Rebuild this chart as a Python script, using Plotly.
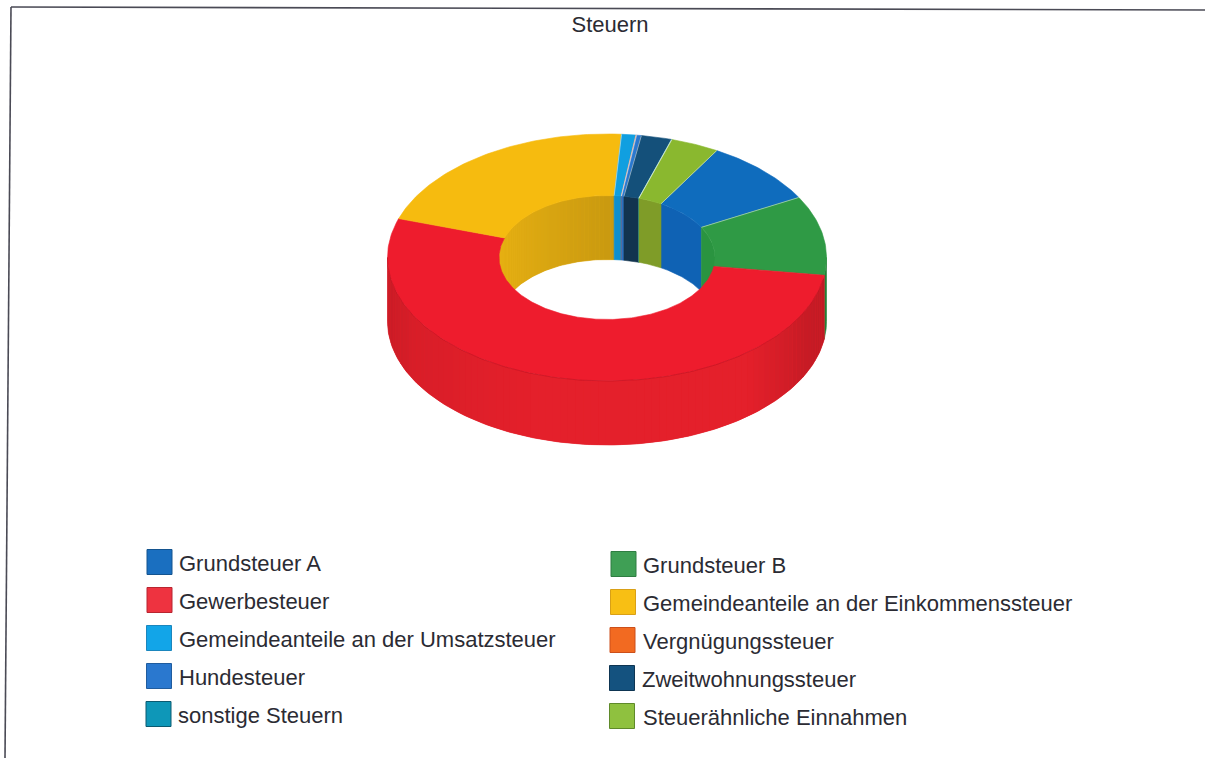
import numpy as np
import plotly.graph_objects as go

# ---- data ----
title = "Steuern"
categories = ["Grundsteuer A", "Grundsteuer B", "Gewerbesteuer",
              "Gemeindeanteile an der Einkommenssteuer",
              "Gemeindeanteile an der Umsatzsteuer", "Vergnügungssteuer",
              "Hundesteuer", "Zweitwohnungssteuer", "sonstige Steuern",
              "Steuerähnliche Einnahmen"]
shares = [8.6, 10.4, 52.9, 21.0, 1.05, 0.05, 0.35, 2.25, 0.03, 3.56]
top_colors = ["#0f6cbd", "#2f9a45", "#ee1c2d", "#f6bb0f", "#109fe0",
              "#f26522", "#2a78cf", "#14507a", "#0f97b5", "#8ab82f"]
wall_colors = ["#0f62b4", "#2a9440", "#e4202b", "#dca812", "#0f8fce",
               "#e05a1c", "#2a70c0", "#12344f", "#0d8aa6", "#7f9c28"]
legend_colors = ["#1a6fc0", "#3f9f55", "#ee3340", "#f8bf14", "#12a5e8",
                 "#f26a21", "#2a78cf", "#14527f", "#0e97b8", "#8fc13f"]
legend_borders = ["#14548f", "#2f7d42", "#b82530", "#d9a017", "#1b86bd",
                  "#cc4f1a", "#205c9e", "#0e3552", "#0b5a70", "#5f8a2a"]

# ---- layout of the drawing (pixel-like axes) ----
W, H = 1205, 758
CX, CY = 607.0, 257.5
OUT_A, OUT_B = 219.5, 123.5
IN_A, IN_B = 108.0, 62.0
DEPTH = 64.0
START = 30.0
swatch_x = [159.5, 623.5, 159.5, 623, 159, 622.5, 159, 622, 158.5, 622]
swatch_y = [562, 564, 600, 602, 638, 640, 676, 678, 714, 716]
label_x = [177, 641, 177, 641, 177, 641, 177, 640, 176, 641]
label_dy = 1
TEXT = "#2b2b33"
FONT = "Liberation Sans, Arial, sans-serif"


def pt(theta, a, b, dy=0.0):
    t = np.radians(theta)
    return CX + a * np.sin(t), CY - b * np.cos(t) + dy


def arc(lo, hi, a, b, dy=0.0):
    n = max(2, int(abs(hi - lo)) + 2)
    return pt(np.linspace(lo, hi, n), a, b, dy)


def shade(hex_color, f):
    rgb = [int(hex_color[i:i + 2], 16) for i in (1, 3, 5)]
    return "rgb(%d,%d,%d)" % tuple(min(255, int(c * f)) for c in rgb)


fig = go.Figure()


def poly(x, y, color, name, lw=0.6):
    fig.add_trace(go.Scatter(x=np.r_[x, x[0]], y=np.r_[y, y[0]], mode="lines",
                             fill="toself", fillcolor=color,
                             line=dict(color=color, width=lw),
                             name=name, showlegend=False, hoverinfo="skip"))


def band(lo, hi, a, b, color, name, lw=0.6):
    x1, y1 = arc(lo, hi, a, b)
    x2, y2 = arc(hi, lo, a, b, DEPTH)
    poly(np.r_[x1, x2], np.r_[y1, y2], color, name, lw)


def shaded_band(lo, hi, a, b, col, name, ts, fs, step=2.0):
    band(lo, hi, a, b, shade(col, np.interp((lo + hi) / 2, ts, fs)), name)
    edges = np.arange(lo, hi, step).tolist() + [hi]
    for p, q in zip(edges[:-1], edges[1:]):
        band(p, q, a, b, shade(col, np.interp((p + q) / 2, ts, fs)), name, 0)


angles = START + np.r_[0, np.cumsum(shares)] / sum(shares) * 360.0
spans = list(zip(angles[:-1], angles[1:]))

# outer front wall
shade_t = [90, 100, 118, 140, 200, 240, 262, 270]
shade_f = [0.82, 0.84, 0.88, 1.0, 1.0, 0.95, 0.88, 0.86]
for (s, e), col, name in zip(spans, wall_colors, categories):
    lo, hi = max(s, 90), min(e, 270)
    if lo < hi:
        if hi - lo > 20:
            shaded_band(lo, hi, OUT_A, OUT_B, col, name, shade_t, shade_f)
        else:
            band(lo, hi, OUT_A, OUT_B, shade(col, 0.85), name)

# inner far wall (the slice that crosses 270 is painted by its successor)
in_t, in_f = [270, 300, 330, 360], [1.08, 1.03, 0.98, 0.92]
for i, ((s, e), col, name) in enumerate(zip(spans, wall_colors, categories)):
    if s < 270 < e:
        continue
    if spans[i - 1][0] < 270 < spans[i - 1][1]:
        s = 270
    for win_lo, win_hi in ((-90, 90), (270, 450)):
        lo, hi = max(s, win_lo), min(e, win_hi)
        if lo < hi:
            if hi - lo > 40:
                shaded_band(lo, hi, IN_A, IN_B, col, name, in_t, in_f)
            else:
                band(lo, hi, IN_A, IN_B, col, name)

# top faces
for (s, e), col, name in zip(spans, top_colors, categories):
    x1, y1 = arc(s, e, OUT_A, OUT_B)
    x2, y2 = arc(e, s, IN_A, IN_B)
    poly(np.r_[x1, x2], np.r_[y1, y2], col, name)

# front rim of the top face, and light seams between slices
rx, ry = arc(max(spans[2][0], 100), 270, OUT_A, OUT_B)
fig.add_trace(go.Scatter(x=rx, y=ry, mode="lines", line=dict(color="rgba(150,10,20,0.35)", width=1),
                         showlegend=False, hoverinfo="skip"))
for i, (s, e) in enumerate(spans):
    if i in (2, 3):
        continue
    x1, y1 = pt(s, OUT_A, OUT_B)
    x2, y2 = pt(s, IN_A, IN_B)
    fig.add_trace(go.Scatter(x=[x1, x2], y=[y1, y2], mode="lines",
                             line=dict(color="rgba(255,255,255,0.45)", width=1),
                             showlegend=False, hoverinfo="skip"))

# legend
fig.add_trace(go.Scatter(x=swatch_x, y=swatch_y, mode="markers", showlegend=False, hoverinfo="skip",
                         marker=dict(symbol="square", size=25, color=legend_colors,
                                     line=dict(color=legend_borders, width=1))))
for name, lx, ly in zip(categories, label_x, swatch_y):
    fig.add_annotation(x=lx, y=ly + label_dy, text=name, showarrow=False, xanchor="left", yanchor="middle",
                       font=dict(family=FONT, size=22, color=TEXT))

# frame of the scanned page
frame = [((11, 7), (W, 10)), ((11, 7), (5, H))]
for (x0, y0), (x1, y1) in frame:
    fig.add_shape(type="line", x0=x0, y0=y0, x1=x1, y1=y1, line=dict(color="#4a4a55", width=1.6))

fig.update_layout(
    width=W, height=H, margin=dict(l=0, r=0, t=0, b=0), autosize=False,
    paper_bgcolor="white", plot_bgcolor="white", showlegend=False,
    title=dict(text=title, x=610 / W, y=1 - 24 / H, xanchor="center", yanchor="middle",
               font=dict(family=FONT, size=22, color=TEXT)),
    xaxis=dict(range=[0, W], visible=False, fixedrange=True),
    yaxis=dict(range=[H, 0], visible=False, fixedrange=True),
)
fig.write_html("out.html", post_script="document.body.style.margin='0';document.body.style.overflow='hidden';",
               config={"displayModeBar": False})
